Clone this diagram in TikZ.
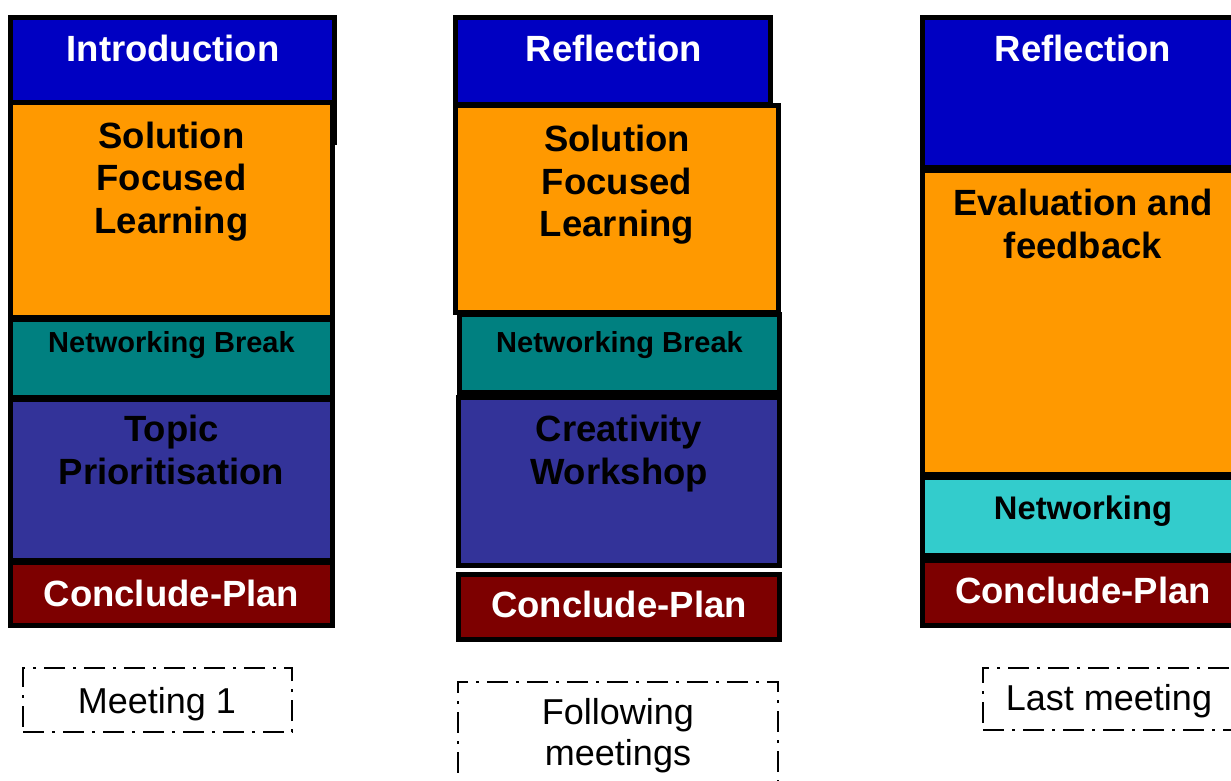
\documentclass[tikz,border=0pt]{standalone}
\usepackage{fontspec}
\setmainfont{Liberation Sans}
\definecolor{headblue}{RGB}{0,0,194}
\definecolor{sessorange}{RGB}{255,153,0}
\definecolor{breakteal}{RGB}{0,128,128}
\definecolor{workblue}{RGB}{51,51,153}
\definecolor{closered}{RGB}{125,0,0}
\definecolor{netcyan}{RGB}{51,204,204}
% one agenda slab: name, fill, outer left, outer top, outer right, outer bottom
\newcommand\agendaslab[6]{%
  \node[slab, fill=#2, minimum width={#5-#3-5}, minimum height={#6-#4-5}]
    (#1) at ({#3+2.5},{#4+2.5}) {};}
\begin{document}
\begin{tikzpicture}[x=1pt, y=-1pt,
  slab/.style={draw=black, line width=5pt, rectangle, inner sep=0pt,
    outer sep=0pt, anchor=north west},
  big/.style={font=\bfseries\fontsize{36.5}{42}\selectfont, anchor=base,
    inner sep=0pt},
  small/.style={font=\bfseries\fontsize{29}{34}\selectfont, anchor=base,
    inner sep=0pt},
  medium/.style={font=\bfseries\fontsize{32.7}{38}\selectfont, anchor=base,
    inner sep=0pt},
  tag/.style={draw=black, line width=2pt,
    dash pattern=on 21pt off 8pt on 3pt off 8pt, rectangle, inner sep=0pt,
    outer sep=0pt, anchor=north west},
  lbl/.style={font=\fontsize{36}{40}\selectfont, anchor=base, inner sep=0pt}]
\useasboundingbox (0,0) rectangle (1231,781);
\clip (0,0) rectangle (1231,781);

% first meeting
\agendaslab{intro}{headblue}{8}{15}{337}{145}
\agendaslab{sfla}{sessorange}{8}{100}{335}{320}
\agendaslab{nba}{breakteal}{8}{317}{335}{400}
\agendaslab{topic}{workblue}{8}{397}{335}{563}
\agendaslab{conca}{closered}{8}{560}{335}{628}
\node[big, text=white] (tintro) at (173,62) {Introduction};
\node[big] (tsola) at (171.5,148) {Solution};
\node[big] (tfoca) at (171.5,190.5) {Focused};
\node[big] (tleaa) at (171.5,233) {Learning};
\node[small] (tnba) at (171.5,352) {Networking Break};
\node[big] (ttopic) at (171.5,441) {Topic};
\node[big] (tprio) at (171.5,484) {Prioritisation};
\node[big, text=white] (tconca) at (171.5,606) {Conclude-Plan};

% following meetings
\agendaslab{reflb}{headblue}{453}{15}{773}{107}
\agendaslab{sflb}{sessorange}{453}{103}{781}{315}
\agendaslab{nbb}{breakteal}{457}{312}{782}{395}
\agendaslab{creat}{workblue}{456}{395}{782}{568}
\agendaslab{concb}{closered}{456}{572}{782}{642}
\node[big, text=white] (treflb) at (614,62) {Reflection};
\node[big] (tsolb) at (617,151.5) {Solution};
\node[big] (tfocb) at (617,194) {Focused};
\node[big] (tleab) at (617,236.5) {Learning};
\node[small] (tnbb) at (619.5,352) {Networking Break};
\node[big] (tcreat) at (619,441) {Creativity};
\node[big] (twork) at (619,484) {Workshop};
\node[big, text=white] (tconcb) at (619,617.5) {Conclude-Plan};

% last meeting
\agendaslab{reflc}{headblue}{920}{15}{1246}{170}
\agendaslab{evalc}{sessorange}{920}{168}{1246}{477}
\agendaslab{netc}{netcyan}{920}{475}{1246}{558}
\agendaslab{concc}{closered}{920}{558}{1246}{628}
\node[big, text=white] (treflc) at (1083,62) {Reflection};
\node[big] (tevala) at (1083,215) {Evaluation and};
\node[big] (tevalb) at (1083,258) {feedback};
\node[medium] (tnetc) at (1083,519) {Networking};
\node[big, text=white] (tconcc) at (1083,603) {Conclude-Plan};

% meeting captions
\node[tag, minimum width=269, minimum height=64] (capa) at (23,668) {};
\node[lbl] (tcapa) at (157,713) {Meeting 1};
\node[tag, minimum width=320, minimum height=130] (capb) at (458,682) {};
\node[lbl] (tcapb1) at (618,724) {Following};
\node[lbl] (tcapb2) at (618,765) {meetings};
\node[tag, minimum width=252, minimum height=62] (capc) at (983,668) {};
\node[lbl] (tcapc) at (1109,710) {Last meeting};
\end{tikzpicture}
\end{document}
